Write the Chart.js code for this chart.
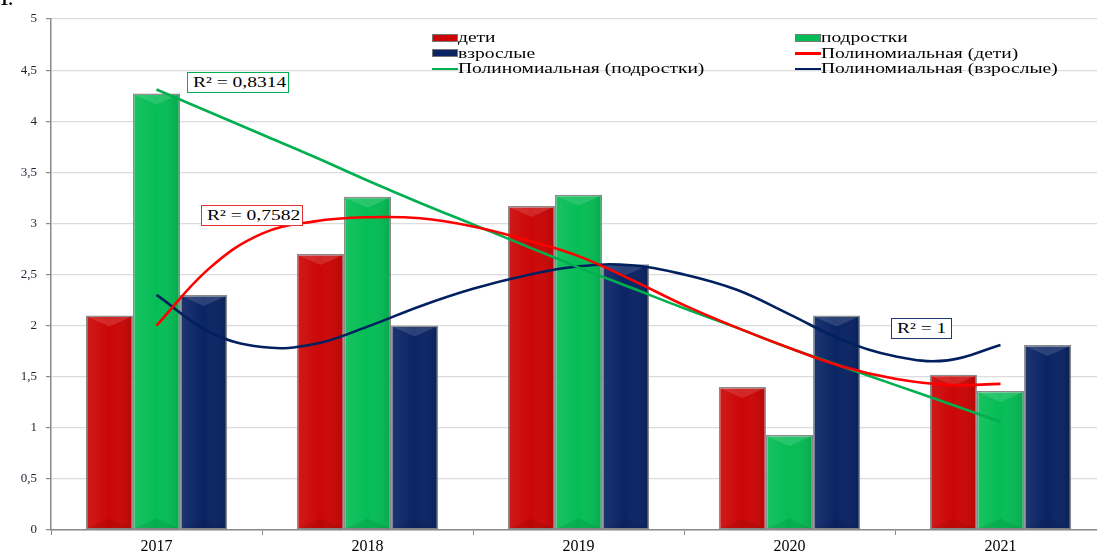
<!DOCTYPE html>
<html>
<head>
<meta charset="utf-8">
<script src="https://cdn.jsdelivr.net/npm/chart.js@4/dist/chart.umd.min.js"></script>
<style>
  html, body { margin: 0; padding: 0; background: #fff; }
  body { width: 1097px; height: 552px; overflow: hidden; position: relative; font-family: "Liberation Serif", "Times New Roman", serif; }
  #wrap { position: absolute; left: 0; top: 0; width: 1112px; height: 552px; }
  #num { position: absolute; left: 0; top: -10px; font-size: 17px; font-weight: bold; color: #000; }
  #legend { position: absolute; left: 432px; top: 30px; display: grid; grid-template-columns: 363px 280px; font-size: 15px; line-height: 15.5px; color: #000; }
  .lg { display: flex; align-items: center; white-space: nowrap; }
  .sw { display: inline-block; width: 26px; flex: none; }
  .sw.bar { height: 8px; border: 1px solid #777; box-sizing: border-box; }
  .sw.line { height: 2.5px; }
  .tx { display: inline-block; transform: scaleX(1.3); transform-origin: 0 50%; }
  .r2 { position: absolute; box-sizing: border-box; height: 21px; background: #fff; font-size: 15px; line-height: 19px; padding-left: 5px; color: #000; border: 1px solid; white-space: nowrap; }
</style>
</head>
<body>
<div id="wrap"><canvas id="chart"></canvas></div>
<div id="num">1.</div>
<div id="legend"></div>
<div class="r2" style="left:187px;top:72px;width:102px;border-color:#00b050;"><span class="tx">R² = 0,8314</span></div>
<div class="r2" style="left:201px;top:205px;width:102px;border-color:#e03030;"><span class="tx">R² = 0,7582</span></div>
<div class="r2" style="left:891px;top:318px;width:61px;border-color:#1f3a70;"><span class="tx">R² = 1</span></div>
<script>
// chart data
const YEARS = ['2017', '2018', '2019', '2020', '2021'];
const YEAR_POS = [1, 2, 3, 4, 5];
const KIDS = [2.1, 2.7, 3.17, 1.4, 1.52];
const TEENS = [4.27, 3.26, 3.28, 0.93, 1.36];
const ADULTS = [2.3, 2.0, 2.6, 2.1, 1.81];
const SERIES_NAMES = ['дети', 'подростки', 'взрослые'];
const TREND_NAMES = ['Полиномиальная (дети)', 'Полиномиальная (подростки)', 'Полиномиальная (взрослые)'];
const Y_TICKS = ['0', '0,5', '1', '1,5', '2', '2,5', '3', '3,5', '4', '4,5', '5'];

// trend curves (x = position along the years, 1 = 2017)
const TREND_X = [1, 1.25, 1.5, 1.75, 2, 2.25, 2.5, 2.75, 3, 3.25, 3.5, 3.75, 4, 4.25, 4.5, 4.75, 5];
const TREND_KIDS = [2.0, 2.56, 2.9, 3.02, 3.06, 3.05, 2.97, 2.84, 2.68, 2.45, 2.2, 1.98, 1.78, 1.6, 1.48, 1.42, 1.43];
const TREND_TEENS = [4.31, 4.09, 3.87, 3.65, 3.42, 3.2, 2.99, 2.78, 2.57, 2.37, 2.17, 1.98, 1.78, 1.6, 1.42, 1.24, 1.06];
const TREND_ADULTS = [2.3, 1.94, 1.79, 1.82, 1.99, 2.19, 2.36, 2.49, 2.58, 2.59, 2.5, 2.35, 2.11, 1.86, 1.7, 1.66, 1.81];

const BAR_COLORS = ['#cc0606', '#05bd55', '#0a2464'];
const LINE_COLORS = ['#ff0000', '#00b050', '#002060'];
const serif = '"Liberation Serif", "Times New Roman", serif';

// legend
const legend = document.getElementById('legend');
const entries = [
  { name: SERIES_NAMES[0], kind: 'bar', color: BAR_COLORS[0] },
  { name: SERIES_NAMES[1], kind: 'bar', color: BAR_COLORS[1] },
  { name: SERIES_NAMES[2], kind: 'bar', color: BAR_COLORS[2] },
  { name: TREND_NAMES[0], kind: 'line', color: LINE_COLORS[0] },
  { name: TREND_NAMES[1], kind: 'line', color: LINE_COLORS[1] },
  { name: TREND_NAMES[2], kind: 'line', color: LINE_COLORS[2] },
];
legend.innerHTML = entries.map(e =>
  `<div class="lg"><span class="sw ${e.kind}" style="background:${e.color};"></span><span class="tx">${e.name}</span></div>`
).join('');

const points = (xs, ys) => ys.map((y, i) => ({ x: xs[i], y }));

// bevel shading over each bar
const bevel = {
  id: 'bevel',
  afterDatasetDraw(chart, args) {
    const meta = args.meta;
    if (meta.type !== 'bar') return;
    const ctx = chart.ctx;
    ctx.save();
    meta.data.forEach(bar => {
      const { x, y, base, width } = bar.getProps(['x', 'y', 'base', 'width'], true);
      const l = x - width / 2 + 1, r = x + width / 2 - 1, t = y + 1, b = base - 1;
      const g = ctx.createLinearGradient(l, 0, r, 0);
      g.addColorStop(0, 'rgba(255,255,255,0.08)');
      g.addColorStop(0.5, 'rgba(255,255,255,0)');
      g.addColorStop(1, 'rgba(0,0,0,0.10)');
      ctx.fillStyle = g;
      ctx.fillRect(l, t, r - l, b - t);
      const d = Math.min(10, (b - t) / 2);
      ctx.fillStyle = 'rgba(255,255,255,0.13)';
      ctx.beginPath(); ctx.moveTo(l, t); ctx.lineTo(r, t); ctx.lineTo(x, t + d); ctx.closePath(); ctx.fill();
      ctx.fillStyle = 'rgba(0,0,0,0.08)';
      ctx.beginPath(); ctx.moveTo(l, b); ctx.lineTo(r, b); ctx.lineTo(x, b - d); ctx.closePath(); ctx.fill();
    });
    ctx.restore();
  }
};

const barSet = (label, data, color) => ({
  type: 'bar', label, data: points(YEAR_POS, data), backgroundColor: color,
  borderColor: '#8a8a8a', borderWidth: 1.5, borderSkipped: false,
  categoryPercentage: 0.67, barPercentage: 1.0, order: 2,
});
const lineSet = (label, data, color) => ({
  type: 'line', label, data: points(TREND_X, data),
  borderColor: color, borderWidth: 2.6, pointRadius: 0, tension: 0.4, fill: false, order: 1,
});

new Chart(document.getElementById('chart'), {
  data: {
    datasets: [
      barSet(SERIES_NAMES[0], KIDS, BAR_COLORS[0]),
      barSet(SERIES_NAMES[1], TEENS, BAR_COLORS[1]),
      barSet(SERIES_NAMES[2], ADULTS, BAR_COLORS[2]),
      lineSet(TREND_NAMES[0], TREND_KIDS, LINE_COLORS[0]),
      lineSet(TREND_NAMES[1], TREND_TEENS, LINE_COLORS[1]),
      lineSet(TREND_NAMES[2], TREND_ADULTS, LINE_COLORS[2]),
    ]
  },
  options: {
    responsive: true,
    maintainAspectRatio: false,
    animation: false,
    layout: { padding: { top: 19, right: 6, left: 0, bottom: 0 } },
    plugins: { legend: { display: false }, tooltip: { enabled: false } },
    scales: {
      x: {
        type: 'linear', min: 0.5, max: 5.5, offset: false,
        afterBuildTicks(s) { s.ticks = YEAR_POS.map(v => ({ value: v })); },
        grid: { offset: true, drawOnChartArea: false, tickLength: 5, color: '#8a8a8a' },
        border: { color: '#8a8a8a', width: 1.5 },
        ticks: { color: '#000', font: { family: serif, size: 16 }, padding: 2,
          autoSkip: false, maxRotation: 0, callback: (v, i) => YEARS[i] },
        afterFit(s) { s.height = 22; }
      },
      y: {
        min: 0, max: 5,
        ticks: { stepSize: 0.5, padding: 9, color: '#1c2333', font: { family: serif, size: 13 },
          callback: (v, i) => Y_TICKS[i] },
        grid: { color: '#dcdcdc', tickColor: '#8a8a8a', tickLength: 5, lineWidth: 1.2 },
        border: { color: '#8a8a8a', width: 1.5 },
        afterFit(s) { s.width = 51; }
      }
    }
  },
  plugins: [bevel]
});
</script>
</body>
</html>
